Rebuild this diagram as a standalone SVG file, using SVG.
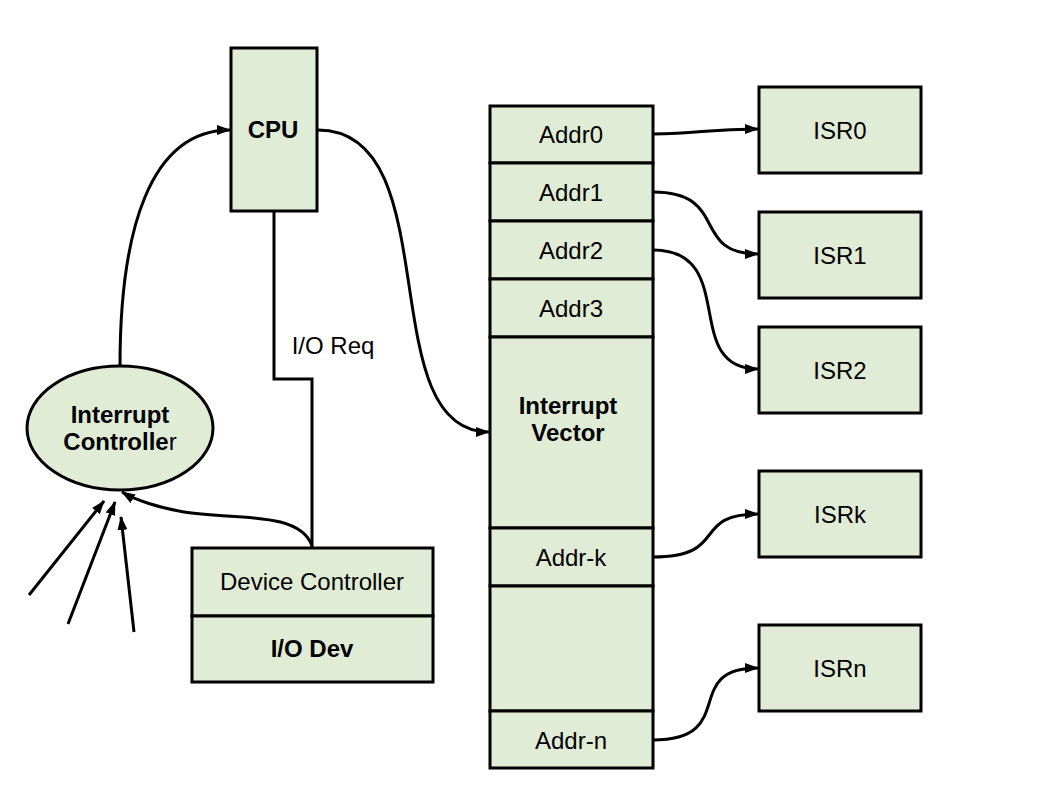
<svg xmlns="http://www.w3.org/2000/svg" width="1058" height="794" viewBox="0 0 1058 794">
<style>
.box{fill:#e0ecd5;stroke:#000;stroke-width:3}
.t{font-family:"Liberation Sans",Arial,sans-serif;font-size:24px;fill:#000;text-anchor:middle;dominant-baseline:central}
.b{font-weight:bold}
.c{fill:none;stroke:#000;stroke-width:3}
.ca{fill:none;stroke:#000;stroke-width:3;marker-end:url(#ah)}
</style>
<defs>
<marker id="ah" viewBox="0 0 14 10" refX="13" refY="5" markerWidth="14" markerHeight="10" markerUnits="userSpaceOnUse" orient="auto">
<path d="M0,0 L14,5 L0,10 Z" fill="#000"/>
</marker>
</defs>
<rect width="1058" height="794" fill="#fff"/>
<g id="connectors">
<path class="ca" d="M120,366 C120,230 150,130 230,130"/>
<path class="ca" d="M318,130 C450,130 370,432 489,432"/>
<path class="c" d="M274,211 V379 H312 V547"/>
<path class="ca" d="M312,546 C300,510 230,520 184,512 C160,508 135,500 122,492"/>
<path class="ca" d="M29,595 L104,501"/>
<path class="ca" d="M68,624 L115,502"/>
<path class="ca" d="M134,632 L121,517"/>
<path class="ca" d="M653,134 C700,134 705,129 758,129"/>
<path class="ca" d="M653,192 C730,192 690,254 758,254"/>
<path class="ca" d="M653,250 C740,250 680,369 758,369"/>
<path class="ca" d="M653,557 C730,557 690,514 758,514"/>
<path class="ca" d="M653,740 C740,740 680,668 758,668"/>
</g>
<g id="label-ioreq"><text class="t" x="333" y="345">I/O Req</text></g>
<g id="cpu"><rect class="box" x="231" y="48" width="86" height="163"/><text class="t b" x="273" y="129">CPU</text></g>
<g id="interrupt-controller"><ellipse class="box" cx="120" cy="428" rx="93" ry="62"/><text class="t b" x="120" y="414">Interrupt</text><text class="t b" x="120" y="441">Controlle<tspan font-weight="normal">r</tspan></text></g>
<g id="device-controller"><rect class="box" x="192" y="548" width="241" height="68"/><text class="t" x="312" y="581">Device Controller</text></g>
<g id="io-dev"><rect class="box" x="192" y="616" width="241" height="66"/><text class="t b" x="312" y="648">I/O Dev</text></g>
<g id="addr0"><rect class="box" x="490" y="106" width="163" height="57"/><text class="t" x="571" y="134">Addr0</text></g>
<g id="addr1"><rect class="box" x="490" y="163" width="163" height="58"/><text class="t" x="571" y="192">Addr1</text></g>
<g id="addr2"><rect class="box" x="490" y="221" width="163" height="58"/><text class="t" x="571" y="250">Addr2</text></g>
<g id="addr3"><rect class="box" x="490" y="279" width="163" height="58"/><text class="t" x="571" y="308">Addr3</text></g>
<g id="interrupt-vector"><rect class="box" x="490" y="337" width="163" height="191"/><text class="t b" x="568" y="405">Interrupt</text><text class="t b" x="568" y="432">Vector</text></g>
<g id="addr-k"><rect class="box" x="490" y="528" width="163" height="58"/><text class="t" x="571" y="557">Addr-k</text></g>
<g id="addr-gap"><rect class="box" x="490" y="586" width="163" height="125"/></g>
<g id="addr-n"><rect class="box" x="490" y="711" width="163" height="57"/><text class="t" x="571" y="740">Addr-n</text></g>
<g id="isr0"><rect class="box" x="759" y="87" width="162" height="86"/><text class="t" x="840" y="130">ISR0</text></g>
<g id="isr1"><rect class="box" x="759" y="212" width="162" height="86"/><text class="t" x="840" y="255">ISR1</text></g>
<g id="isr2"><rect class="box" x="759" y="327" width="162" height="86"/><text class="t" x="840" y="370">ISR2</text></g>
<g id="isrk"><rect class="box" x="759" y="471" width="162" height="86"/><text class="t" x="840" y="514">ISRk</text></g>
<g id="isrn"><rect class="box" x="759" y="625" width="162" height="86"/><text class="t" x="840" y="668">ISRn</text></g>
</svg>
